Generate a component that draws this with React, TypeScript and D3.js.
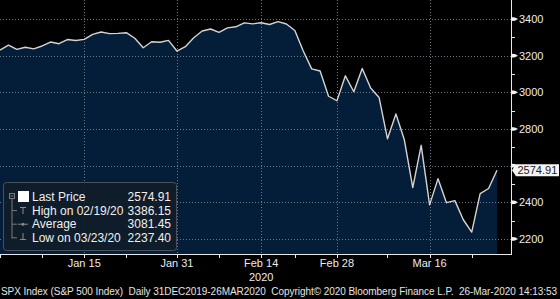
import React from 'react';
import * as d3 from 'd3';

const dates = [
  '2019-12-31', '2020-01-02', '2020-01-03', '2020-01-06', '2020-01-07', '2020-01-08', '2020-01-09', '2020-01-10',
  '2020-01-13', '2020-01-14', '2020-01-15', '2020-01-16', '2020-01-17', '2020-01-21', '2020-01-22', '2020-01-23',
  '2020-01-24', '2020-01-27', '2020-01-28', '2020-01-29', '2020-01-30', '2020-01-31', '2020-02-03', '2020-02-04',
  '2020-02-05', '2020-02-06', '2020-02-07', '2020-02-10', '2020-02-11', '2020-02-12', '2020-02-13', '2020-02-14',
  '2020-02-18', '2020-02-19', '2020-02-20', '2020-02-21', '2020-02-24', '2020-02-25', '2020-02-26', '2020-02-27',
  '2020-02-28', '2020-03-02', '2020-03-03', '2020-03-04', '2020-03-05', '2020-03-06', '2020-03-09', '2020-03-10',
  '2020-03-11', '2020-03-12', '2020-03-13', '2020-03-16', '2020-03-17', '2020-03-18', '2020-03-19', '2020-03-20',
  '2020-03-23', '2020-03-24', '2020-03-25', '2020-03-26',
];

const closes = [
  3230.78, 3257.85, 3234.85, 3246.28, 3237.18, 3253.05, 3274.70, 3265.35,
  3288.13, 3283.15, 3289.29, 3316.81, 3329.62, 3320.79, 3321.75, 3325.54,
  3295.47, 3243.63, 3276.24, 3273.40, 3283.66, 3225.52, 3248.92, 3297.59,
  3334.69, 3345.78, 3327.71, 3352.09, 3357.75, 3379.45, 3373.94, 3380.16,
  3370.29, 3386.15, 3373.23, 3337.75, 3225.89, 3128.21, 3116.39, 2978.76,
  2954.22, 3090.23, 3003.37, 3130.12, 3023.94, 2972.37, 2746.56, 2882.23,
  2741.38, 2480.64, 2711.02, 2386.13, 2529.19, 2398.10, 2409.39, 2304.92,
  2237.40, 2447.33, 2475.56, 2574.91,
];

const yMajorTicks = [2200, 2400, 2600, 2800, 3000, 3200, 3400];
const yLabelTicks = [2200, 2400, 2800, 3000, 3200, 3400];
const yMinorTicks = [2300, 2500, 2700, 2900, 3100, 3300];
const xMajorTicks = ['2020-01-15', '2020-01-31', '2020-02-14', '2020-02-28', '2020-03-16'];
const xMajorLabels = ['Jan 15', 'Jan 31', 'Feb 14', 'Feb 28', 'Mar 16'];
const xMinorTicks = ['2019-12-31', '2020-01-08', '2020-01-23', '2020-02-07', '2020-02-21', '2020-03-09', '2020-03-23'];
const yearDate = '2020-02-14';
const yearLabel = '2020';
const legendLabels = ['Last Price', 'High on 02/19/20', 'Average', 'Low on 03/23/20'];
const legendValues = ['2574.91', '3386.15', '3081.45', '2237.40'];
const lastPriceLabel = '2574.91';
const lastPrice = 2574.91;
const footerText = 'SPX Index (S&P 500 Index)  Daily 31DEC2019-26MAR2020  Copyright\u00A9 2020 Bloomberg Finance L.P.  26-Mar-2020 14:13:53';

const W = 560;
const H = 299;
const plotRight = 511;
const plotBottom = 254;
const FONT = '"Liberation Sans", Arial, sans-serif';

export default function App() {
  const x = d3.scalePoint<string>().domain(dates).range([0, 497]);
  const y = d3.scaleLinear().domain([2118, 3504]).range([plotBottom, 0]);

  const data = dates.map((d, i) => ({ d, v: closes[i] }));
  const area = d3
    .area<{ d: string; v: number }>()
    .x((p) => x(p.d) as number)
    .y0(plotBottom)
    .y1((p) => y(p.v));
  const line = d3
    .line<{ d: string; v: number }>()
    .x((p) => x(p.d) as number)
    .y((p) => y(p.v));

  const gridColor = '#6c7784';
  const lpY = y(lastPrice);
  const legendBase = 201;
  const rowH = 13.6;

  return (
    <svg
      width={W}
      height={H}
      style={{ position: 'fixed', left: 0, top: 0, display: 'block' }}
      fontFamily={FONT}
    >
      <rect x={0} y={0} width={W} height={H} fill="#000" />
      <path d={area(data) || ''} fill="#041d38" />
      {/* horizontal grid */}
      {yMajorTicks.map((t) => (
        <line
          key={'hg' + t}
          x1={0}
          x2={plotRight}
          y1={Math.round(y(t)) + 0.5}
          y2={Math.round(y(t)) + 0.5}
          stroke={gridColor}
          strokeDasharray="1,2"
          strokeWidth={1}
        />
      ))}
      {/* vertical grid */}
      {xMajorTicks.map((t) => (
        <line
          key={'vg' + t}
          x1={Math.round(x(t) as number) + 0.5}
          x2={Math.round(x(t) as number) + 0.5}
          y1={0}
          y2={plotBottom}
          stroke={gridColor}
          strokeDasharray="1,2"
          strokeWidth={1}
        />
      ))}
      <path d={line(data) || ''} fill="none" stroke="#d4d4d4" strokeWidth={1.4} strokeLinejoin="round" />

      {/* axes */}
      <line x1={plotRight + 0.5} x2={plotRight + 0.5} y1={0} y2={plotBottom + 1} stroke="#e8e8e8" strokeWidth={1} />
      <line x1={0} x2={plotRight} y1={plotBottom + 0.5} y2={plotBottom + 0.5} stroke="#e8e8e8" strokeWidth={1} />

      {/* y minor ticks */}
      {yMinorTicks.map((t) => (
        <line
          key={'ym' + t}
          x1={plotRight}
          x2={plotRight + 4}
          y1={Math.round(y(t)) + 0.5}
          y2={Math.round(y(t)) + 0.5}
          stroke="#e8e8e8"
        />
      ))}
      {/* y major ticks and labels */}
      {yMajorTicks.map((t) => {
        const yy = y(t);
        return (
          <polygon
            key={'yt' + t}
            points={`${plotRight},${yy - 2} ${plotRight + 4},${yy - 1.6} ${plotRight + 7},${yy} ${plotRight + 4},${yy + 1.6} ${plotRight},${yy + 2}`}
            fill="#f2f2f2"
          />
        );
      })}
      {yLabelTicks.map((t) => (
        <text key={'yl' + t} x={519} y={y(t) + 4} fontSize={11} fill="#ececec">
          {t}
        </text>
      ))}

      {/* last price tag */}
      <polygon
        points={`${plotRight + 1},${lpY} ${plotRight + 5},${lpY - 6} 559,${lpY - 6} 559,${lpY + 6} ${plotRight + 5},${lpY + 6}`}
        fill="#f4f4f4"
      />
      <text x={517.5} y={lpY + 4} fontSize={11} fill="#202020">
        {lastPriceLabel}
      </text>

      {/* x ticks */}
      {[...xMajorTicks, ...xMinorTicks].map((t) => (
        <line
          key={'xt' + t}
          x1={Math.round(x(t) as number) + 0.5}
          x2={Math.round(x(t) as number) + 0.5}
          y1={plotBottom}
          y2={plotBottom + 4}
          stroke="#e8e8e8"
        />
      ))}
      {xMajorTicks.map((t, i) => (
        <text key={'xl' + t} x={x(t) as number} y={267} fontSize={11} fill="#ececec" textAnchor="middle">
          {xMajorLabels[i]}
        </text>
      ))}
      <text x={x(yearDate) as number} y={280.5} fontSize={11} fill="#ececec" textAnchor="middle">
        {yearLabel}
      </text>

      {/* legend */}
      <rect x={3.5} y={182.5} width={173} height={68} rx={3} fill="#101c28" fillOpacity={0.92} stroke="#46515e" />
      <rect x={9.5} y={193.5} width={5} height={5} fill="none" stroke="#7a7a7a" />
      <line x1={10.5} x2={13.5} y1={196} y2={196} stroke="#7a7a7a" />
      <line x1={12} x2={12} y1={199} y2={238.5} stroke="#7a7a7a" />
      {[1, 2, 3].map((i) => (
        <line
          key={'br' + i}
          x1={12}
          x2={17}
          y1={legendBase + i * rowH - 4}
          y2={legendBase + i * rowH - 4}
          stroke="#7a7a7a"
        />
      ))}
      <rect x={18} y={191} width={11} height={11} fill="#ffffff" />
      {/* high icon */}
      <line x1={20} x2={26} y1={207.5} y2={207.5} stroke="#8a8a8a" />
      <line x1={23} x2={23} y1={207.5} y2={214} stroke="#8a8a8a" />
      {/* average icon */}
      <line x1={18} x2={28} y1={legendBase + 2 * rowH - 4} y2={legendBase + 2 * rowH - 4} stroke="#8a8a8a" />
      <circle cx={23} cy={legendBase + 2 * rowH - 4} r={1.5} fill="#8a8a8a" />
      {/* low icon */}
      <line x1={23} x2={23} y1={233} y2={239.5} stroke="#8a8a8a" />
      <line x1={20} x2={26} y1={239.5} y2={239.5} stroke="#8a8a8a" />
      {legendLabels.map((l, i) => (
        <text key={'ll' + i} x={32} y={legendBase + i * rowH} fontSize={12} fill="#f0f0f0">
          {l}
        </text>
      ))}
      {legendValues.map((v, i) => (
        <text key={'lv' + i} x={171} y={legendBase + i * rowH} fontSize={12} fill="#f0f0f0" textAnchor="end">
          {v}
        </text>
      ))}

      {/* footer */}
      <text x={1} y={295} fontSize={10} fill="#e4e4e4" textLength={556} lengthAdjust="spacing" xmlSpace="preserve">
        {footerText}
      </text>
    </svg>
  );
}
